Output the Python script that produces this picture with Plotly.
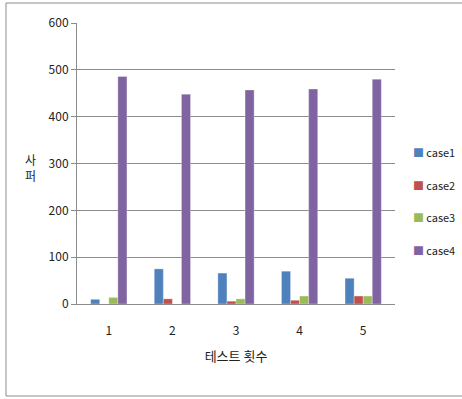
import plotly.graph_objects as go

# Test runs on the category axis
runs = ["1", "2", "3", "4", "5"]

# Measured values per case
case1 = [10, 75, 66, 70, 55]
case2 = [0, 11, 6, 8, 17]
case3 = [14, 0, 11, 17, 17]
case4 = [486, 448, 457, 459, 480]

series = [
    ("case1", case1, "#4F81BD"),
    ("case2", case2, "#C0504D"),
    ("case3", case3, "#9BBB59"),
    ("case4", case4, "#8064A2"),
]

FONT = "Noto Sans CJK KR"
GRID = "#8c8c8c"

fig = go.Figure()
for name, vals, color in series:
    fig.add_trace(go.Bar(
        x=runs, y=vals, name=name, showlegend=False,
        marker=dict(color=color, line=dict(color="rgba(255,255,255,0.6)", width=0.5)),
    ))

# Compact legend to the right of the plot: colour square + series name
legend_notes = []
for i, (name, _, color) in enumerate(series):
    legend_notes.append(dict(
        text=f"<span style='color:{color};font-size:11px'>■</span>&#8201;{name}",
        xref="paper", yref="paper", x=1.05, y=0.541 - i * 0.1165,
        xanchor="left", yanchor="middle", showarrow=False,
        font=dict(family=FONT, size=11, color="#222"),
    ))

fig.update_layout(
    width=462, height=399,
    margin=dict(l=77, r=67, t=23, b=95, autoexpand=False),
    paper_bgcolor="white", plot_bgcolor="white",
    barmode="group", bargap=0.43, bargroupgap=0,
    font=dict(family=FONT, size=11, color="#222"),
    showlegend=False,
    xaxis=dict(
        type="category", showgrid=False, showline=True, linecolor=GRID,
        ticks="", tickfont=dict(size=12), ticklabelstandoff=16,
        title=dict(text="테스트 횟수", font=dict(size=13, color="#222"), standoff=14),
    ),
    yaxis=dict(
        range=[0, 600], dtick=100, showgrid=True, gridcolor=GRID, gridwidth=1,
        showline=True, linecolor=GRID, ticks="outside", ticklen=5, tickcolor=GRID,
        tickfont=dict(size=12), zeroline=False,
    ),
    annotations=[dict(
        text="사<br>퍼", xref="paper", yref="paper", x=-0.145, y=0.4875,
        showarrow=False, font=dict(family=FONT, size=12, color="#222"),
        xanchor="center", yanchor="middle",
    )] + legend_notes,
    shapes=[dict(
        type="rect", xref="paper", yref="paper",
        x0=-0.2233, x1=1.2138, y0=-0.3274, y1=1.0712,
        line=dict(color="#8c8c8c", width=1), fillcolor="rgba(0,0,0,0)", layer="below",
    )],
)

fig.write_html("out.html")
